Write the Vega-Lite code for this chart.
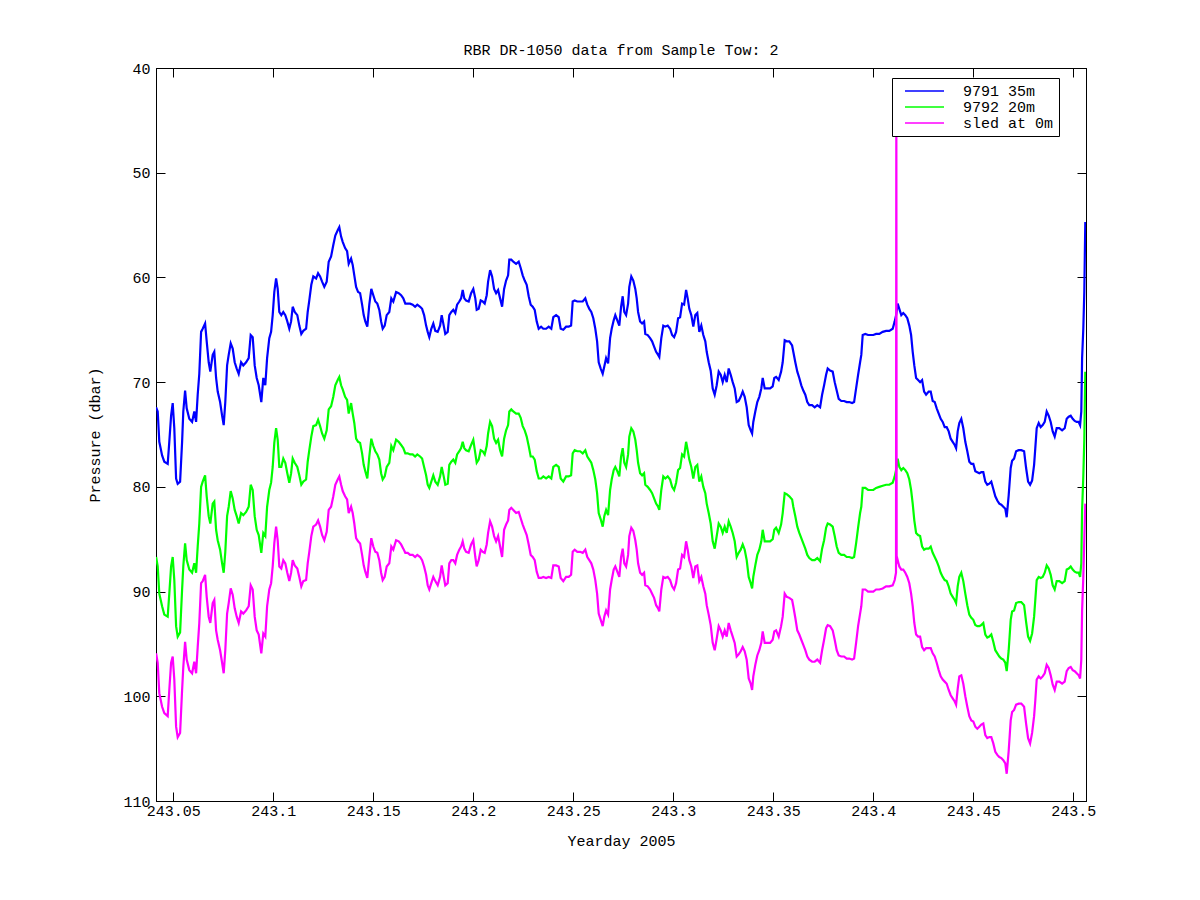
{
"$schema":"https://vega.github.io/schema/vega-lite/v6.json",
"width":930,"height":733,
"autosize":{"type":"none"},
"padding":{"left":156,"top":68,"right":114,"bottom":99},
"background":"white",
"config":{
 "font":"Liberation Mono",
 "view":{"stroke":"black","strokeWidth":1},
 "axis":{"labelFont":"Liberation Mono","labelFontSize":15,"labelColor":"black","titleFont":"Liberation Mono","titleFontSize":15,"titleFontWeight":"normal","titleColor":"black","domainColor":"black","tickColor":"black","grid":false,"tickSize":-9,"domainWidth":1,"tickWidth":1}
},
"title":{"text":"RBR DR-1050 data from Sample Tow: 2","font":"Liberation Mono","fontSize":15,"fontWeight":"normal","color":"black","offset":3,"anchor":"middle"},
"datasets":{
"blue":[
{"t":243.0414,"p":72.4},{"t":243.0422,"p":72.8},{"t":243.0430,"p":75.7},{"t":243.0444,"p":77.0},{"t":243.0455,"p":77.6},{"t":243.0472,"p":77.8},{"t":243.0480,"p":75.7},{"t":243.0489,"p":73.2},{"t":243.0497,"p":72.0},{"t":243.0505,"p":74.4},{"t":243.0514,"p":79.2},{"t":243.0522,"p":79.7},{"t":243.0534,"p":79.5},{"t":243.0544,"p":75.7},{"t":243.0550,"p":72.8},{"t":243.0559,"p":70.8},{"t":243.0567,"p":72.5},{"t":243.0580,"p":73.5},{"t":243.0594,"p":73.8},{"t":243.0605,"p":72.8},{"t":243.0614,"p":73.8},{"t":243.0622,"p":71.2},{"t":243.0630,"p":69.2},{"t":243.0639,"p":65.2},{"t":243.0647,"p":64.9},{"t":243.0659,"p":64.4},{"t":243.0667,"p":66.1},{"t":243.0677,"p":68.1},{"t":243.0685,"p":69.0},{"t":243.0697,"p":67.4},{"t":243.0705,"p":67.1},{"t":243.0714,"p":69.6},{"t":243.0722,"p":70.9},{"t":243.0734,"p":71.9},{"t":243.0744,"p":73.2},{"t":243.0752,"p":74.1},{"t":243.0760,"p":71.9},{"t":243.0769,"p":68.4},{"t":243.0777,"p":67.4},{"t":243.0787,"p":66.3},{"t":243.0797,"p":66.8},{"t":243.0807,"p":68.1},{"t":243.0817,"p":68.7},{"t":243.0827,"p":69.2},{"t":243.0839,"p":68.1},{"t":243.0850,"p":68.4},{"t":243.0864,"p":68.1},{"t":243.0877,"p":67.7},{"t":243.0887,"p":65.5},{"t":243.0897,"p":65.7},{"t":243.0907,"p":68.4},{"t":243.0917,"p":69.6},{"t":243.0927,"p":70.3},{"t":243.0940,"p":71.9},{"t":243.0950,"p":69.6},{"t":243.0960,"p":70.3},{"t":243.0969,"p":67.7},{"t":243.0980,"p":65.8},{"t":243.0989,"p":65.2},{"t":243.0997,"p":63.6},{"t":243.1005,"p":61.4},{"t":243.1014,"p":60.1},{"t":243.1022,"p":61.1},{"t":243.1030,"p":63.3},{"t":243.1040,"p":63.6},{"t":243.1050,"p":63.3},{"t":243.1060,"p":63.6},{"t":243.1070,"p":64.2},{"t":243.1080,"p":64.9},{"t":243.1089,"p":64.2},{"t":243.1097,"p":62.8},{"t":243.1107,"p":63.3},{"t":243.1120,"p":63.6},{"t":243.1130,"p":64.6},{"t":243.1140,"p":65.4},{"t":243.1150,"p":65.1},{"t":243.1164,"p":64.9},{"t":243.1172,"p":63.3},{"t":243.1180,"p":62.2},{"t":243.1190,"p":60.7},{"t":243.1200,"p":59.9},{"t":243.1214,"p":60.1},{"t":243.1224,"p":59.6},{"t":243.1234,"p":59.9},{"t":243.1244,"p":60.4},{"t":243.1255,"p":60.9},{"t":243.1267,"p":60.4},{"t":243.1277,"p":58.5},{"t":243.1289,"p":58.0},{"t":243.1300,"p":56.9},{"t":243.1310,"p":56.0},{"t":243.1322,"p":55.5},{"t":243.1330,"p":55.2},{"t":243.1339,"p":56.1},{"t":243.1347,"p":56.6},{"t":243.1359,"p":57.2},{"t":243.1369,"p":57.5},{"t":243.1377,"p":58.7},{"t":243.1389,"p":58.2},{"t":243.1397,"p":58.8},{"t":243.1405,"p":59.8},{"t":243.1414,"p":60.9},{"t":243.1424,"p":61.4},{"t":243.1434,"p":61.5},{"t":243.1444,"p":62.6},{"t":243.1452,"p":63.6},{"t":243.1460,"p":64.2},{"t":243.1470,"p":64.7},{"t":243.1480,"p":62.6},{"t":243.1490,"p":61.1},{"t":243.1500,"p":61.7},{"t":243.1510,"p":62.3},{"t":243.1520,"p":62.5},{"t":243.1530,"p":63.1},{"t":243.1539,"p":64.2},{"t":243.1547,"p":64.9},{"t":243.1557,"p":64.6},{"t":243.1567,"p":63.6},{"t":243.1580,"p":63.3},{"t":243.1590,"p":62.0},{"t":243.1600,"p":62.3},{"t":243.1614,"p":61.4},{"t":243.1627,"p":61.5},{"t":243.1639,"p":61.7},{"t":243.1650,"p":62.0},{"t":243.1660,"p":62.5},{"t":243.1672,"p":62.5},{"t":243.1684,"p":62.5},{"t":243.1697,"p":62.6},{"t":243.1709,"p":62.8},{"t":243.1720,"p":62.6},{"t":243.1734,"p":62.8},{"t":243.1744,"p":63.0},{"t":243.1754,"p":63.6},{"t":243.1764,"p":64.6},{"t":243.1772,"p":65.2},{"t":243.1780,"p":65.7},{"t":243.1790,"p":64.9},{"t":243.1800,"p":64.4},{"t":243.1810,"p":65.1},{"t":243.1822,"p":65.2},{"t":243.1834,"p":64.6},{"t":243.1842,"p":63.6},{"t":243.1852,"p":64.6},{"t":243.1860,"p":65.4},{"t":243.1872,"p":65.2},{"t":243.1880,"p":63.6},{"t":243.1890,"p":63.3},{"t":243.1900,"p":63.1},{"t":243.1910,"p":63.4},{"t":243.1919,"p":62.6},{"t":243.1930,"p":62.3},{"t":243.1939,"p":62.0},{"t":243.1947,"p":61.2},{"t":243.1955,"p":62.0},{"t":243.1964,"p":62.2},
{"t":243.1977,"p":62.3},{"t":243.1989,"p":61.5},{"t":243.2000,"p":61.1},{"t":243.2010,"p":62.0},{"t":243.2017,"p":63.1},{"t":243.2027,"p":63.0},{"t":243.2037,"p":62.2},{"t":243.2047,"p":62.3},{"t":243.2057,"p":62.5},{"t":243.2067,"p":61.7},{"t":243.2074,"p":60.4},{"t":243.2084,"p":59.3},{"t":243.2094,"p":59.9},{"t":243.2104,"p":61.1},{"t":243.2114,"p":61.5},{"t":243.2124,"p":61.2},{"t":243.2134,"p":62.0},{"t":243.2144,"p":62.8},{"t":243.2154,"p":61.1},{"t":243.2164,"p":60.3},{"t":243.2174,"p":59.8},{"t":243.2180,"p":58.3},{"t":243.2190,"p":58.3},{"t":243.2200,"p":58.5},{"t":243.2214,"p":58.7},{"t":243.2227,"p":58.5},{"t":243.2237,"p":59.1},{"t":243.2247,"p":59.8},{"t":243.2257,"p":60.3},{"t":243.2267,"p":60.7},{"t":243.2277,"p":61.8},{"t":243.2287,"p":62.6},{"t":243.2297,"p":62.8},{"t":243.2307,"p":63.1},{"t":243.2317,"p":64.2},{"t":243.2327,"p":64.9},{"t":243.2339,"p":64.7},{"t":243.2350,"p":64.9},{"t":243.2364,"p":64.9},{"t":243.2377,"p":64.7},{"t":243.2390,"p":64.9},{"t":243.2400,"p":63.8},{"t":243.2414,"p":63.6},{"t":243.2427,"p":63.8},{"t":243.2437,"p":64.9},{"t":243.2450,"p":65.0},{"t":243.2464,"p":64.7},{"t":243.2477,"p":64.7},{"t":243.2489,"p":64.6},{"t":243.2497,"p":62.3},{"t":243.2507,"p":62.2},{"t":243.2520,"p":62.3},{"t":243.2534,"p":62.3},{"t":243.2547,"p":62.3},{"t":243.2560,"p":62.0},{"t":243.2570,"p":62.6},{"t":243.2580,"p":63.0},{"t":243.2590,"p":63.3},{"t":243.2600,"p":63.9},{"t":243.2610,"p":64.9},{"t":243.2619,"p":66.1},{"t":243.2627,"p":68.1},{"t":243.2637,"p":68.7},{"t":243.2647,"p":69.2},{"t":243.2655,"p":68.5},{"t":243.2664,"p":67.7},{"t":243.2674,"p":68.2},{"t":243.2684,"p":65.8},{"t":243.2692,"p":64.9},{"t":243.2702,"p":64.1},{"t":243.2710,"p":63.6},{"t":243.2720,"p":64.1},{"t":243.2730,"p":64.6},{"t":243.2739,"p":62.8},{"t":243.2747,"p":61.8},{"t":243.2755,"p":63.3},{"t":243.2764,"p":63.6},{"t":243.2774,"p":62.5},{"t":243.2780,"p":60.9},{"t":243.2790,"p":59.9},{"t":243.2800,"p":60.3},{"t":243.2810,"p":61.1},{"t":243.2817,"p":62.0},{"t":243.2824,"p":63.3},{"t":243.2834,"p":64.2},{"t":243.2844,"p":64.4},{"t":243.2854,"p":64.2},{"t":243.2860,"p":65.4},{"t":243.2872,"p":65.5},{"t":243.2884,"p":65.8},{"t":243.2894,"p":66.1},{"t":243.2904,"p":66.6},{"t":243.2914,"p":67.1},{"t":243.2924,"p":67.4},{"t":243.2930,"p":67.6},{"t":243.2940,"p":65.8},{"t":243.2950,"p":64.6},{"t":243.2960,"p":64.7},{"t":243.2972,"p":64.6},{"t":243.2984,"p":64.9},{"t":243.2994,"p":65.5},{"t":243.3004,"p":65.7},{"t":243.3014,"p":65.2},{"t":243.3024,"p":63.9},{"t":243.3034,"p":63.8},{"t":243.3044,"p":62.5},{"t":243.3054,"p":62.6},{"t":243.3064,"p":61.2},{"t":243.3072,"p":62.0},{"t":243.3080,"p":63.0},{"t":243.3090,"p":63.6},{"t":243.3100,"p":64.7},{"t":243.3110,"p":63.6},{"t":243.3120,"p":63.4},{"t":243.3130,"p":65.2},{"t":243.3140,"p":64.6},{"t":243.3150,"p":65.5},{"t":243.3160,"p":66.1},{"t":243.3167,"p":67.1},{"t":243.3177,"p":68.1},{"t":243.3187,"p":68.9},{"t":243.3197,"p":70.6},{"t":243.3207,"p":71.2},{"t":243.3217,"p":70.3},{"t":243.3227,"p":69.0},{"t":243.3237,"p":69.3},{"t":243.3247,"p":70.0},{"t":243.3257,"p":69.3},{"t":243.3267,"p":70.0},{"t":243.3277,"p":68.7},{"t":243.3287,"p":69.3},{"t":243.3297,"p":70.0},{"t":243.3307,"p":70.6},{"t":243.3317,"p":71.9},{"t":243.3327,"p":71.8},{"t":243.3337,"p":71.4},{"t":243.3347,"p":70.9},{"t":243.3357,"p":71.4},{"t":243.3367,"p":72.4},{"t":243.3377,"p":74.1},{"t":243.3387,"p":74.6},{"t":243.3394,"p":74.9},{"t":243.3400,"p":73.8},{"t":243.3410,"p":72.8},{"t":243.3420,"p":71.9},{"t":243.3430,"p":71.4},{"t":243.3440,"p":70.6},{"t":243.3447,"p":69.6},{"t":243.3457,"p":70.6},{"t":243.3470,"p":70.6},{"t":243.3484,"p":70.6},{"t":243.3497,"p":70.4},{"t":243.3505,"p":69.6},{"t":243.3514,"p":69.5},
{"t":243.3527,"p":69.8},{"t":243.3539,"p":69.0},{"t":243.3547,"p":68.1},{"t":243.3557,"p":66.0},{"t":243.3567,"p":66.1},{"t":243.3580,"p":66.1},{"t":243.3594,"p":66.5},{"t":243.3600,"p":67.1},{"t":243.3610,"p":68.1},{"t":243.3620,"p":69.0},{"t":243.3630,"p":69.6},{"t":243.3640,"p":70.3},{"t":243.3650,"p":70.8},{"t":243.3660,"p":71.2},{"t":243.3670,"p":71.9},{"t":243.3680,"p":72.2},{"t":243.3694,"p":72.2},{"t":243.3707,"p":72.4},{"t":243.3720,"p":72.2},{"t":243.3734,"p":72.4},{"t":243.3744,"p":71.2},{"t":243.3754,"p":70.3},{"t":243.3764,"p":69.3},{"t":243.3772,"p":68.7},{"t":243.3784,"p":68.9},{"t":243.3797,"p":69.0},{"t":243.3807,"p":70.0},{"t":243.3817,"p":70.8},{"t":243.3827,"p":71.6},{"t":243.3840,"p":71.8},{"t":243.3854,"p":71.8},{"t":243.3867,"p":71.9},{"t":243.3880,"p":71.9},{"t":243.3894,"p":72.0},{"t":243.3904,"p":71.9},{"t":243.3914,"p":70.6},{"t":243.3924,"p":69.3},{"t":243.3934,"p":68.1},{"t":243.3940,"p":67.4},{"t":243.3947,"p":65.5},{"t":243.3960,"p":65.4},{"t":243.3974,"p":65.5},{"t":243.3987,"p":65.5},{"t":243.4000,"p":65.5},{"t":243.4014,"p":65.4},{"t":243.4030,"p":65.4},{"t":243.4047,"p":65.2},{"t":243.4064,"p":65.1},{"t":243.4080,"p":65.1},{"t":243.4097,"p":64.9},{"t":243.4107,"p":64.2},{"t":243.4114,"p":63.6},{"t":243.4122,"p":62.5},{"t":243.4130,"p":63.0},{"t":243.4140,"p":63.6},{"t":243.4150,"p":63.4},{"t":243.4160,"p":63.6},{"t":243.4170,"p":63.9},{"t":243.4180,"p":64.6},{"t":243.4189,"p":65.5},{"t":243.4197,"p":67.1},{"t":243.4205,"p":68.4},{"t":243.4214,"p":69.6},{"t":243.4224,"p":69.8},{"t":243.4234,"p":70.0},{"t":243.4244,"p":69.8},{"t":243.4254,"p":70.9},{"t":243.4264,"p":71.2},{"t":243.4277,"p":70.9},{"t":243.4287,"p":70.9},{"t":243.4297,"p":71.8},{"t":243.4307,"p":71.9},{"t":243.4317,"p":72.5},{"t":243.4327,"p":73.0},{"t":243.4337,"p":73.5},{"t":243.4347,"p":73.8},{"t":243.4357,"p":74.3},{"t":243.4367,"p":74.3},{"t":243.4377,"p":74.7},{"t":243.4387,"p":75.4},{"t":243.4397,"p":75.7},{"t":243.4407,"p":76.0},{"t":243.4414,"p":76.3},{"t":243.4422,"p":74.7},{"t":243.4430,"p":73.9},{"t":243.4440,"p":73.5},{"t":243.4450,"p":74.4},{"t":243.4460,"p":75.7},{"t":243.4470,"p":76.6},{"t":243.4480,"p":77.6},{"t":243.4490,"p":77.8},{"t":243.4500,"p":77.8},{"t":243.4510,"p":78.5},{"t":243.4520,"p":78.6},{"t":243.4530,"p":78.7},{"t":243.4540,"p":78.6},{"t":243.4550,"p":78.6},{"t":243.4560,"p":79.5},{"t":243.4570,"p":79.8},{"t":243.4580,"p":79.7},{"t":243.4590,"p":79.5},{"t":243.4600,"p":80.2},{"t":243.4610,"p":80.9},{"t":243.4620,"p":81.3},{"t":243.4630,"p":81.6},{"t":243.4640,"p":81.7},{"t":243.4650,"p":81.9},{"t":243.4660,"p":82.1},{"t":243.4667,"p":82.9},{"t":243.4677,"p":80.8},{"t":243.4687,"p":78.2},{"t":243.4694,"p":77.5},{"t":243.4704,"p":77.3},{"t":243.4714,"p":76.6},{"t":243.4727,"p":76.5},{"t":243.4740,"p":76.5},{"t":243.4754,"p":76.6},{"t":243.4764,"p":78.2},{"t":243.4774,"p":79.5},{"t":243.4784,"p":79.8},{"t":243.4794,"p":79.4},{"t":243.4804,"p":77.9},{"t":243.4810,"p":76.3},{"t":243.4817,"p":74.4},{"t":243.4827,"p":73.9},{"t":243.4837,"p":74.3},{"t":243.4847,"p":74.1},{"t":243.4857,"p":73.8},{"t":243.4867,"p":72.8},{"t":243.4877,"p":73.2},{"t":243.4887,"p":73.8},{"t":243.4897,"p":74.7},{"t":243.4907,"p":75.2},{"t":243.4917,"p":74.4},{"t":243.4930,"p":74.4},{"t":243.4944,"p":74.6},{"t":243.4957,"p":74.4},{"t":243.4967,"p":73.5},{"t":243.4977,"p":73.3},{"t":243.4987,"p":73.2},{"t":243.4997,"p":73.5},{"t":243.5007,"p":73.7},{"t":243.5017,"p":73.8},{"t":243.5027,"p":73.8},{"t":243.5034,"p":74.1},{"t":243.5040,"p":72.8},{"t":243.5044,"p":67.7},{"t":243.5050,"p":64.9},{"t":243.5055,"p":61.4},{"t":243.5060,"p":54.7}
],
"green":[
{"t":243.0414,"p":86.7},{"t":243.0422,"p":87.6},{"t":243.0430,"p":90.2},{"t":243.0444,"p":91.4},{"t":243.0455,"p":92.2},{"t":243.0472,"p":92.4},{"t":243.0480,"p":90.2},{"t":243.0489,"p":87.6},{"t":243.0497,"p":86.7},{"t":243.0505,"p":88.9},{"t":243.0514,"p":93.3},{"t":243.0522,"p":94.3},{"t":243.0534,"p":93.9},{"t":243.0544,"p":89.8},{"t":243.0550,"p":87.6},{"t":243.0559,"p":85.4},{"t":243.0567,"p":87.0},{"t":243.0580,"p":87.9},{"t":243.0594,"p":88.2},{"t":243.0605,"p":87.3},{"t":243.0614,"p":88.2},{"t":243.0622,"p":85.7},{"t":243.0630,"p":83.5},{"t":243.0639,"p":80.0},{"t":243.0647,"p":79.5},{"t":243.0659,"p":78.9},{"t":243.0667,"p":80.9},{"t":243.0677,"p":82.8},{"t":243.0685,"p":83.5},{"t":243.0697,"p":81.6},{"t":243.0705,"p":81.4},{"t":243.0714,"p":84.1},{"t":243.0722,"p":85.1},{"t":243.0734,"p":86.0},{"t":243.0744,"p":87.3},{"t":243.0752,"p":88.2},{"t":243.0760,"p":86.2},{"t":243.0769,"p":82.8},{"t":243.0777,"p":81.9},{"t":243.0787,"p":80.4},{"t":243.0797,"p":81.1},{"t":243.0807,"p":82.2},{"t":243.0817,"p":82.8},{"t":243.0827,"p":83.5},{"t":243.0839,"p":82.5},{"t":243.0850,"p":82.7},{"t":243.0864,"p":82.4},{"t":243.0877,"p":81.9},{"t":243.0887,"p":79.8},{"t":243.0897,"p":80.3},{"t":243.0907,"p":82.8},{"t":243.0917,"p":84.1},{"t":243.0927,"p":84.6},{"t":243.0940,"p":86.3},{"t":243.0950,"p":84.4},{"t":243.0960,"p":84.7},{"t":243.0969,"p":81.9},{"t":243.0980,"p":80.3},{"t":243.0989,"p":79.6},{"t":243.0997,"p":78.1},{"t":243.1005,"p":75.8},{"t":243.1014,"p":74.4},{"t":243.1022,"p":75.5},{"t":243.1030,"p":78.1},{"t":243.1040,"p":78.1},{"t":243.1050,"p":77.3},{"t":243.1060,"p":77.7},{"t":243.1070,"p":78.7},{"t":243.1080,"p":79.6},{"t":243.1089,"p":78.7},{"t":243.1097,"p":77.3},{"t":243.1107,"p":77.7},{"t":243.1120,"p":78.1},{"t":243.1130,"p":78.9},{"t":243.1140,"p":79.8},{"t":243.1150,"p":79.5},{"t":243.1164,"p":79.3},{"t":243.1172,"p":77.6},{"t":243.1180,"p":76.5},{"t":243.1190,"p":75.2},{"t":243.1200,"p":74.2},{"t":243.1214,"p":74.1},{"t":243.1224,"p":73.6},{"t":243.1234,"p":74.2},{"t":243.1244,"p":74.9},{"t":243.1255,"p":75.4},{"t":243.1267,"p":74.6},{"t":243.1277,"p":72.6},{"t":243.1289,"p":72.3},{"t":243.1300,"p":71.4},{"t":243.1310,"p":70.3},{"t":243.1322,"p":69.8},{"t":243.1330,"p":69.5},{"t":243.1339,"p":70.3},{"t":243.1347,"p":70.7},{"t":243.1359,"p":71.4},{"t":243.1369,"p":71.7},{"t":243.1377,"p":73.0},{"t":243.1389,"p":72.0},{"t":243.1397,"p":73.0},{"t":243.1405,"p":73.9},{"t":243.1414,"p":75.4},{"t":243.1424,"p":75.7},{"t":243.1434,"p":75.8},{"t":243.1444,"p":76.8},{"t":243.1452,"p":77.9},{"t":243.1460,"p":78.5},{"t":243.1470,"p":79.2},{"t":243.1480,"p":77.1},{"t":243.1490,"p":75.4},{"t":243.1500,"p":76.1},{"t":243.1510,"p":76.6},{"t":243.1520,"p":76.9},{"t":243.1530,"p":77.4},{"t":243.1539,"p":78.7},{"t":243.1547,"p":79.3},{"t":243.1557,"p":79.0},{"t":243.1567,"p":78.1},{"t":243.1580,"p":77.7},{"t":243.1590,"p":76.1},{"t":243.1600,"p":76.5},{"t":243.1614,"p":75.5},{"t":243.1627,"p":75.7},{"t":243.1639,"p":76.0},{"t":243.1650,"p":76.3},{"t":243.1660,"p":76.8},{"t":243.1672,"p":76.8},{"t":243.1684,"p":76.9},{"t":243.1697,"p":76.9},{"t":243.1709,"p":77.1},{"t":243.1720,"p":76.9},{"t":243.1734,"p":77.1},{"t":243.1744,"p":77.3},{"t":243.1754,"p":78.1},{"t":243.1764,"p":78.9},{"t":243.1772,"p":79.8},{"t":243.1780,"p":80.1},{"t":243.1790,"p":79.5},{"t":243.1800,"p":78.9},{"t":243.1810,"p":79.5},{"t":243.1822,"p":79.8},{"t":243.1834,"p":79.0},{"t":243.1842,"p":78.1},{"t":243.1852,"p":79.0},{"t":243.1860,"p":79.8},{"t":243.1872,"p":79.7},{"t":243.1880,"p":77.9},{"t":243.1890,"p":77.6},{"t":243.1900,"p":77.4},{"t":243.1910,"p":77.7},{"t":243.1919,"p":76.9},{"t":243.1930,"p":76.6},{"t":243.1939,"p":76.3},{"t":243.1947,"p":75.7},{"t":243.1955,"p":76.3},{"t":243.1964,"p":76.5},
{"t":243.1977,"p":76.6},{"t":243.1989,"p":76.0},{"t":243.2000,"p":75.5},{"t":243.2010,"p":76.8},{"t":243.2017,"p":77.7},{"t":243.2027,"p":77.4},{"t":243.2037,"p":76.5},{"t":243.2047,"p":76.6},{"t":243.2057,"p":76.9},{"t":243.2067,"p":76.1},{"t":243.2074,"p":74.9},{"t":243.2084,"p":73.8},{"t":243.2094,"p":74.2},{"t":243.2104,"p":75.4},{"t":243.2114,"p":75.8},{"t":243.2124,"p":75.5},{"t":243.2134,"p":76.5},{"t":243.2144,"p":77.1},{"t":243.2154,"p":75.4},{"t":243.2164,"p":74.6},{"t":243.2174,"p":74.1},{"t":243.2180,"p":72.8},{"t":243.2190,"p":72.6},{"t":243.2200,"p":72.8},{"t":243.2214,"p":73.0},{"t":243.2227,"p":73.0},{"t":243.2237,"p":73.4},{"t":243.2247,"p":74.2},{"t":243.2257,"p":74.6},{"t":243.2267,"p":75.2},{"t":243.2277,"p":76.1},{"t":243.2287,"p":77.1},{"t":243.2297,"p":77.1},{"t":243.2307,"p":77.4},{"t":243.2317,"p":78.5},{"t":243.2327,"p":79.2},{"t":243.2339,"p":79.2},{"t":243.2350,"p":79.0},{"t":243.2364,"p":79.2},{"t":243.2377,"p":79.0},{"t":243.2390,"p":79.2},{"t":243.2400,"p":78.1},{"t":243.2414,"p":77.9},{"t":243.2427,"p":78.1},{"t":243.2437,"p":79.2},{"t":243.2450,"p":79.5},{"t":243.2464,"p":79.0},{"t":243.2477,"p":79.0},{"t":243.2489,"p":78.9},{"t":243.2497,"p":76.8},{"t":243.2507,"p":76.5},{"t":243.2520,"p":76.6},{"t":243.2534,"p":76.6},{"t":243.2547,"p":76.8},{"t":243.2560,"p":76.5},{"t":243.2570,"p":77.1},{"t":243.2580,"p":77.4},{"t":243.2590,"p":77.7},{"t":243.2600,"p":78.4},{"t":243.2610,"p":79.3},{"t":243.2619,"p":80.6},{"t":243.2627,"p":82.5},{"t":243.2637,"p":83.1},{"t":243.2647,"p":83.8},{"t":243.2655,"p":82.8},{"t":243.2664,"p":82.2},{"t":243.2674,"p":82.7},{"t":243.2684,"p":80.3},{"t":243.2692,"p":79.3},{"t":243.2702,"p":78.4},{"t":243.2710,"p":78.1},{"t":243.2720,"p":78.5},{"t":243.2730,"p":79.0},{"t":243.2739,"p":77.1},{"t":243.2747,"p":76.3},{"t":243.2755,"p":77.7},{"t":243.2764,"p":78.1},{"t":243.2774,"p":76.9},{"t":243.2780,"p":75.2},{"t":243.2790,"p":74.4},{"t":243.2800,"p":74.7},{"t":243.2810,"p":75.5},{"t":243.2817,"p":76.5},{"t":243.2824,"p":77.7},{"t":243.2834,"p":78.7},{"t":243.2844,"p":78.9},{"t":243.2854,"p":78.7},{"t":243.2860,"p":79.8},{"t":243.2872,"p":80.0},{"t":243.2884,"p":80.3},{"t":243.2894,"p":80.6},{"t":243.2904,"p":81.1},{"t":243.2914,"p":81.6},{"t":243.2924,"p":81.9},{"t":243.2930,"p":82.2},{"t":243.2940,"p":80.3},{"t":243.2950,"p":79.0},{"t":243.2960,"p":79.2},{"t":243.2972,"p":79.0},{"t":243.2984,"p":79.3},{"t":243.2994,"p":80.0},{"t":243.3004,"p":80.3},{"t":243.3014,"p":79.6},{"t":243.3024,"p":78.4},{"t":243.3034,"p":78.2},{"t":243.3044,"p":76.9},{"t":243.3054,"p":77.1},{"t":243.3064,"p":75.7},{"t":243.3072,"p":76.5},{"t":243.3080,"p":77.4},{"t":243.3090,"p":78.1},{"t":243.3100,"p":79.2},{"t":243.3110,"p":78.1},{"t":243.3120,"p":77.9},{"t":243.3130,"p":79.5},{"t":243.3140,"p":79.0},{"t":243.3150,"p":80.0},{"t":243.3160,"p":80.6},{"t":243.3167,"p":81.6},{"t":243.3177,"p":82.5},{"t":243.3187,"p":83.5},{"t":243.3197,"p":85.2},{"t":243.3207,"p":85.9},{"t":243.3217,"p":84.7},{"t":243.3227,"p":83.5},{"t":243.3237,"p":83.8},{"t":243.3247,"p":84.4},{"t":243.3257,"p":83.8},{"t":243.3267,"p":84.4},{"t":243.3277,"p":83.3},{"t":243.3287,"p":83.8},{"t":243.3297,"p":84.4},{"t":243.3307,"p":85.2},{"t":243.3317,"p":86.7},{"t":243.3327,"p":86.3},{"t":243.3337,"p":86.0},{"t":243.3347,"p":85.5},{"t":243.3357,"p":86.0},{"t":243.3367,"p":87.0},{"t":243.3377,"p":88.6},{"t":243.3387,"p":89.2},{"t":243.3394,"p":89.7},{"t":243.3400,"p":88.6},{"t":243.3410,"p":87.5},{"t":243.3420,"p":86.5},{"t":243.3430,"p":86.0},{"t":243.3440,"p":85.2},{"t":243.3447,"p":84.1},{"t":243.3457,"p":85.2},{"t":243.3470,"p":85.2},{"t":243.3484,"p":85.2},{"t":243.3497,"p":85.0},{"t":243.3505,"p":84.1},{"t":243.3514,"p":83.9},
{"t":243.3527,"p":84.4},{"t":243.3539,"p":83.6},{"t":243.3547,"p":82.5},{"t":243.3557,"p":80.6},{"t":243.3567,"p":80.7},{"t":243.3580,"p":80.9},{"t":243.3594,"p":81.2},{"t":243.3600,"p":81.9},{"t":243.3610,"p":82.8},{"t":243.3620,"p":83.8},{"t":243.3630,"p":84.4},{"t":243.3640,"p":84.9},{"t":243.3650,"p":85.4},{"t":243.3660,"p":85.9},{"t":243.3670,"p":86.5},{"t":243.3680,"p":86.8},{"t":243.3694,"p":87.0},{"t":243.3707,"p":87.0},{"t":243.3720,"p":86.8},{"t":243.3734,"p":87.1},{"t":243.3744,"p":85.9},{"t":243.3754,"p":85.1},{"t":243.3764,"p":83.9},{"t":243.3772,"p":83.5},{"t":243.3784,"p":83.6},{"t":243.3797,"p":83.8},{"t":243.3807,"p":84.7},{"t":243.3817,"p":85.7},{"t":243.3827,"p":86.3},{"t":243.3840,"p":86.5},{"t":243.3854,"p":86.5},{"t":243.3867,"p":86.7},{"t":243.3880,"p":86.7},{"t":243.3894,"p":86.8},{"t":243.3904,"p":86.7},{"t":243.3914,"p":85.4},{"t":243.3924,"p":83.9},{"t":243.3934,"p":82.5},{"t":243.3940,"p":81.9},{"t":243.3947,"p":80.1},{"t":243.3960,"p":80.1},{"t":243.3974,"p":80.3},{"t":243.3987,"p":80.3},{"t":243.4000,"p":80.3},{"t":243.4014,"p":80.1},{"t":243.4030,"p":80.0},{"t":243.4047,"p":79.9},{"t":243.4064,"p":79.8},{"t":243.4080,"p":79.8},{"t":243.4097,"p":79.6},{"t":243.4107,"p":79.0},{"t":243.4114,"p":78.4},{"t":243.4122,"p":77.3},{"t":243.4130,"p":78.1},{"t":243.4140,"p":78.4},{"t":243.4150,"p":78.2},{"t":243.4160,"p":78.4},{"t":243.4170,"p":78.7},{"t":243.4180,"p":79.3},{"t":243.4189,"p":80.3},{"t":243.4197,"p":81.6},{"t":243.4205,"p":83.2},{"t":243.4214,"p":84.4},{"t":243.4224,"p":84.6},{"t":243.4234,"p":84.7},{"t":243.4244,"p":85.7},{"t":243.4254,"p":86.0},{"t":243.4264,"p":85.9},{"t":243.4277,"p":85.9},{"t":243.4287,"p":85.7},{"t":243.4297,"p":86.3},{"t":243.4307,"p":86.7},{"t":243.4317,"p":87.1},{"t":243.4327,"p":87.6},{"t":243.4337,"p":88.2},{"t":243.4347,"p":88.6},{"t":243.4357,"p":88.9},{"t":243.4367,"p":89.0},{"t":243.4377,"p":89.5},{"t":243.4387,"p":90.2},{"t":243.4397,"p":90.5},{"t":243.4407,"p":90.8},{"t":243.4414,"p":91.1},{"t":243.4422,"p":89.5},{"t":243.4430,"p":88.6},{"t":243.4440,"p":88.2},{"t":243.4450,"p":89.0},{"t":243.4460,"p":90.2},{"t":243.4470,"p":91.3},{"t":243.4480,"p":92.2},{"t":243.4490,"p":92.5},{"t":243.4500,"p":92.7},{"t":243.4510,"p":93.2},{"t":243.4520,"p":93.3},{"t":243.4530,"p":93.3},{"t":243.4540,"p":93.2},{"t":243.4550,"p":93.0},{"t":243.4560,"p":94.1},{"t":243.4570,"p":94.4},{"t":243.4580,"p":94.3},{"t":243.4590,"p":94.1},{"t":243.4600,"p":94.8},{"t":243.4610,"p":95.6},{"t":243.4620,"p":95.9},{"t":243.4630,"p":96.2},{"t":243.4640,"p":96.4},{"t":243.4650,"p":96.5},{"t":243.4660,"p":96.8},{"t":243.4667,"p":97.6},{"t":243.4677,"p":95.6},{"t":243.4687,"p":92.7},{"t":243.4694,"p":91.9},{"t":243.4704,"p":91.8},{"t":243.4714,"p":91.1},{"t":243.4727,"p":91.0},{"t":243.4740,"p":91.0},{"t":243.4754,"p":91.3},{"t":243.4764,"p":92.9},{"t":243.4774,"p":94.3},{"t":243.4784,"p":94.7},{"t":243.4794,"p":94.0},{"t":243.4804,"p":92.4},{"t":243.4810,"p":90.8},{"t":243.4817,"p":88.9},{"t":243.4827,"p":88.6},{"t":243.4837,"p":88.7},{"t":243.4847,"p":88.6},{"t":243.4857,"p":88.2},{"t":243.4867,"p":87.5},{"t":243.4877,"p":87.8},{"t":243.4887,"p":88.4},{"t":243.4897,"p":89.4},{"t":243.4907,"p":89.8},{"t":243.4917,"p":89.0},{"t":243.4930,"p":89.0},{"t":243.4944,"p":89.2},{"t":243.4957,"p":89.0},{"t":243.4967,"p":87.9},{"t":243.4977,"p":87.8},{"t":243.4987,"p":87.6},{"t":243.4997,"p":87.9},{"t":243.5007,"p":88.1},{"t":243.5017,"p":88.2},{"t":243.5027,"p":88.2},{"t":243.5034,"p":88.6},{"t":243.5040,"p":87.3},{"t":243.5044,"p":82.2},{"t":243.5050,"p":79.0},{"t":243.5055,"p":75.5},{"t":243.5060,"p":69.0}
],
"sled":[
{"t":243.0414,"p":95.9},{"t":243.0422,"p":96.8},{"t":243.0430,"p":99.7},{"t":243.0444,"p":101.0},{"t":243.0455,"p":101.6},{"t":243.0472,"p":101.9},{"t":243.0480,"p":99.4},{"t":243.0489,"p":96.8},{"t":243.0497,"p":96.2},{"t":243.0505,"p":98.4},{"t":243.0514,"p":102.9},{"t":243.0522,"p":103.9},{"t":243.0534,"p":103.5},{"t":243.0544,"p":99.4},{"t":243.0550,"p":97.2},{"t":243.0559,"p":94.8},{"t":243.0567,"p":96.5},{"t":243.0580,"p":97.5},{"t":243.0594,"p":97.8},{"t":243.0605,"p":96.7},{"t":243.0614,"p":97.8},{"t":243.0622,"p":95.3},{"t":243.0630,"p":93.0},{"t":243.0639,"p":89.2},{"t":243.0647,"p":89.0},{"t":243.0659,"p":88.4},{"t":243.0667,"p":90.5},{"t":243.0677,"p":92.4},{"t":243.0685,"p":93.0},{"t":243.0697,"p":91.1},{"t":243.0705,"p":90.8},{"t":243.0714,"p":93.7},{"t":243.0722,"p":94.6},{"t":243.0734,"p":95.6},{"t":243.0744,"p":96.8},{"t":243.0752,"p":97.8},{"t":243.0760,"p":95.6},{"t":243.0769,"p":92.1},{"t":243.0777,"p":91.1},{"t":243.0787,"p":89.7},{"t":243.0797,"p":90.3},{"t":243.0807,"p":91.6},{"t":243.0817,"p":92.4},{"t":243.0827,"p":93.0},{"t":243.0839,"p":91.9},{"t":243.0850,"p":92.1},{"t":243.0864,"p":91.8},{"t":243.0877,"p":91.4},{"t":243.0887,"p":89.4},{"t":243.0897,"p":89.8},{"t":243.0907,"p":92.4},{"t":243.0917,"p":93.7},{"t":243.0927,"p":94.1},{"t":243.0940,"p":95.9},{"t":243.0950,"p":94.0},{"t":243.0960,"p":94.3},{"t":243.0969,"p":91.4},{"t":243.0980,"p":89.8},{"t":243.0989,"p":89.2},{"t":243.0997,"p":87.6},{"t":243.1005,"p":85.4},{"t":243.1014,"p":83.8},{"t":243.1022,"p":85.1},{"t":243.1030,"p":87.6},{"t":243.1040,"p":87.8},{"t":243.1050,"p":87.0},{"t":243.1060,"p":87.3},{"t":243.1070,"p":88.2},{"t":243.1080,"p":89.0},{"t":243.1089,"p":88.2},{"t":243.1097,"p":87.0},{"t":243.1107,"p":87.5},{"t":243.1120,"p":87.8},{"t":243.1130,"p":88.6},{"t":243.1140,"p":89.5},{"t":243.1150,"p":89.0},{"t":243.1164,"p":88.9},{"t":243.1172,"p":87.3},{"t":243.1180,"p":86.2},{"t":243.1190,"p":84.7},{"t":243.1200,"p":83.8},{"t":243.1214,"p":83.6},{"t":243.1224,"p":83.2},{"t":243.1234,"p":83.8},{"t":243.1244,"p":84.6},{"t":243.1255,"p":85.1},{"t":243.1267,"p":84.3},{"t":243.1277,"p":82.2},{"t":243.1289,"p":81.9},{"t":243.1300,"p":80.9},{"t":243.1310,"p":79.8},{"t":243.1322,"p":79.3},{"t":243.1330,"p":79.0},{"t":243.1339,"p":79.8},{"t":243.1347,"p":80.4},{"t":243.1359,"p":80.9},{"t":243.1369,"p":81.2},{"t":243.1377,"p":82.5},{"t":243.1389,"p":81.9},{"t":243.1397,"p":82.5},{"t":243.1405,"p":83.5},{"t":243.1414,"p":84.9},{"t":243.1424,"p":85.2},{"t":243.1434,"p":85.4},{"t":243.1444,"p":86.5},{"t":243.1452,"p":87.5},{"t":243.1460,"p":88.1},{"t":243.1470,"p":88.7},{"t":243.1480,"p":86.7},{"t":243.1490,"p":84.9},{"t":243.1500,"p":85.7},{"t":243.1510,"p":86.2},{"t":243.1520,"p":86.3},{"t":243.1530,"p":87.0},{"t":243.1539,"p":88.2},{"t":243.1547,"p":88.9},{"t":243.1557,"p":88.6},{"t":243.1567,"p":87.6},{"t":243.1580,"p":87.3},{"t":243.1590,"p":85.7},{"t":243.1600,"p":86.0},{"t":243.1614,"p":85.1},{"t":243.1627,"p":85.2},{"t":243.1639,"p":85.5},{"t":243.1650,"p":85.9},{"t":243.1660,"p":86.3},{"t":243.1672,"p":86.3},{"t":243.1684,"p":86.5},{"t":243.1697,"p":86.5},{"t":243.1709,"p":86.7},{"t":243.1720,"p":86.5},{"t":243.1734,"p":86.7},{"t":243.1744,"p":87.0},{"t":243.1754,"p":87.6},{"t":243.1764,"p":88.4},{"t":243.1772,"p":89.4},{"t":243.1780,"p":89.8},{"t":243.1790,"p":89.2},{"t":243.1800,"p":88.6},{"t":243.1810,"p":89.0},{"t":243.1822,"p":89.4},{"t":243.1834,"p":88.6},{"t":243.1842,"p":87.5},{"t":243.1852,"p":88.6},{"t":243.1860,"p":89.4},{"t":243.1872,"p":89.2},{"t":243.1880,"p":87.3},{"t":243.1890,"p":87.0},{"t":243.1900,"p":87.0},{"t":243.1910,"p":87.3},{"t":243.1919,"p":86.5},{"t":243.1930,"p":86.0},{"t":243.1939,"p":85.7},{"t":243.1947,"p":85.2},{"t":243.1955,"p":85.9},{"t":243.1964,"p":86.2},
{"t":243.1977,"p":86.3},{"t":243.1989,"p":85.5},{"t":243.2000,"p":85.1},{"t":243.2010,"p":86.7},{"t":243.2017,"p":87.6},{"t":243.2027,"p":87.0},{"t":243.2037,"p":86.0},{"t":243.2047,"p":86.2},{"t":243.2057,"p":86.3},{"t":243.2067,"p":85.5},{"t":243.2074,"p":84.4},{"t":243.2084,"p":83.3},{"t":243.2094,"p":83.8},{"t":243.2104,"p":84.7},{"t":243.2114,"p":85.2},{"t":243.2124,"p":84.7},{"t":243.2134,"p":85.7},{"t":243.2144,"p":86.7},{"t":243.2154,"p":84.1},{"t":243.2164,"p":83.6},{"t":243.2174,"p":83.2},{"t":243.2180,"p":82.2},{"t":243.2190,"p":82.0},{"t":243.2200,"p":82.2},{"t":243.2214,"p":82.5},{"t":243.2227,"p":82.4},{"t":243.2237,"p":83.0},{"t":243.2247,"p":83.6},{"t":243.2257,"p":84.1},{"t":243.2267,"p":84.6},{"t":243.2277,"p":85.5},{"t":243.2287,"p":86.5},{"t":243.2297,"p":86.7},{"t":243.2307,"p":87.0},{"t":243.2317,"p":88.1},{"t":243.2327,"p":88.7},{"t":243.2339,"p":88.7},{"t":243.2350,"p":88.6},{"t":243.2364,"p":88.7},{"t":243.2377,"p":88.6},{"t":243.2390,"p":88.7},{"t":243.2400,"p":87.5},{"t":243.2414,"p":87.5},{"t":243.2427,"p":87.6},{"t":243.2437,"p":88.7},{"t":243.2450,"p":89.0},{"t":243.2464,"p":88.6},{"t":243.2477,"p":88.6},{"t":243.2489,"p":88.4},{"t":243.2497,"p":86.2},{"t":243.2507,"p":86.0},{"t":243.2520,"p":86.2},{"t":243.2534,"p":86.2},{"t":243.2547,"p":86.3},{"t":243.2560,"p":86.0},{"t":243.2570,"p":86.7},{"t":243.2580,"p":87.0},{"t":243.2590,"p":87.3},{"t":243.2600,"p":87.9},{"t":243.2610,"p":88.9},{"t":243.2619,"p":90.2},{"t":243.2627,"p":92.1},{"t":243.2637,"p":92.7},{"t":243.2647,"p":93.3},{"t":243.2655,"p":92.4},{"t":243.2664,"p":91.8},{"t":243.2674,"p":92.2},{"t":243.2684,"p":89.8},{"t":243.2692,"p":88.9},{"t":243.2702,"p":87.9},{"t":243.2710,"p":87.6},{"t":243.2720,"p":88.1},{"t":243.2730,"p":88.6},{"t":243.2739,"p":86.7},{"t":243.2747,"p":85.9},{"t":243.2755,"p":87.3},{"t":243.2764,"p":87.6},{"t":243.2774,"p":86.5},{"t":243.2780,"p":84.7},{"t":243.2790,"p":83.9},{"t":243.2800,"p":84.2},{"t":243.2810,"p":85.1},{"t":243.2817,"p":86.0},{"t":243.2824,"p":87.3},{"t":243.2834,"p":88.2},{"t":243.2844,"p":88.4},{"t":243.2854,"p":88.2},{"t":243.2860,"p":89.4},{"t":243.2872,"p":89.5},{"t":243.2884,"p":89.8},{"t":243.2894,"p":90.2},{"t":243.2904,"p":90.6},{"t":243.2914,"p":91.3},{"t":243.2924,"p":91.6},{"t":243.2930,"p":91.9},{"t":243.2940,"p":89.8},{"t":243.2950,"p":88.6},{"t":243.2960,"p":88.7},{"t":243.2972,"p":88.6},{"t":243.2984,"p":88.9},{"t":243.2994,"p":89.5},{"t":243.3004,"p":89.8},{"t":243.3014,"p":89.2},{"t":243.3024,"p":87.9},{"t":243.3034,"p":87.8},{"t":243.3044,"p":86.5},{"t":243.3054,"p":86.7},{"t":243.3064,"p":85.2},{"t":243.3072,"p":86.0},{"t":243.3080,"p":87.0},{"t":243.3090,"p":87.6},{"t":243.3100,"p":88.7},{"t":243.3110,"p":87.6},{"t":243.3120,"p":87.5},{"t":243.3130,"p":89.0},{"t":243.3140,"p":88.6},{"t":243.3150,"p":89.5},{"t":243.3160,"p":90.2},{"t":243.3167,"p":91.3},{"t":243.3177,"p":92.2},{"t":243.3187,"p":93.2},{"t":243.3197,"p":94.9},{"t":243.3207,"p":95.6},{"t":243.3217,"p":94.5},{"t":243.3227,"p":93.3},{"t":243.3237,"p":93.7},{"t":243.3247,"p":94.3},{"t":243.3257,"p":93.7},{"t":243.3267,"p":94.3},{"t":243.3277,"p":93.0},{"t":243.3287,"p":93.7},{"t":243.3297,"p":94.3},{"t":243.3307,"p":94.9},{"t":243.3317,"p":96.2},{"t":243.3327,"p":96.0},{"t":243.3337,"p":95.7},{"t":243.3347,"p":95.3},{"t":243.3357,"p":95.7},{"t":243.3367,"p":96.5},{"t":243.3377,"p":98.3},{"t":243.3387,"p":98.8},{"t":243.3394,"p":99.4},{"t":243.3400,"p":98.1},{"t":243.3410,"p":97.0},{"t":243.3420,"p":96.1},{"t":243.3430,"p":95.6},{"t":243.3440,"p":94.9},{"t":243.3447,"p":93.8},{"t":243.3457,"p":94.9},{"t":243.3470,"p":94.9},{"t":243.3484,"p":94.9},{"t":243.3497,"p":94.6},{"t":243.3505,"p":93.8},{"t":243.3514,"p":93.7},
{"t":243.3527,"p":94.3},{"t":243.3539,"p":93.3},{"t":243.3547,"p":92.4},{"t":243.3557,"p":90.2},{"t":243.3567,"p":90.5},{"t":243.3580,"p":90.6},{"t":243.3594,"p":90.8},{"t":243.3600,"p":91.4},{"t":243.3610,"p":92.5},{"t":243.3620,"p":93.7},{"t":243.3630,"p":94.1},{"t":243.3640,"p":94.6},{"t":243.3650,"p":95.1},{"t":243.3660,"p":95.6},{"t":243.3670,"p":96.2},{"t":243.3680,"p":96.5},{"t":243.3694,"p":96.7},{"t":243.3707,"p":96.7},{"t":243.3720,"p":96.5},{"t":243.3734,"p":96.8},{"t":243.3744,"p":95.6},{"t":243.3754,"p":94.6},{"t":243.3764,"p":93.5},{"t":243.3772,"p":93.2},{"t":243.3784,"p":93.3},{"t":243.3797,"p":93.7},{"t":243.3807,"p":94.6},{"t":243.3817,"p":95.6},{"t":243.3827,"p":96.1},{"t":243.3840,"p":96.2},{"t":243.3854,"p":96.2},{"t":243.3867,"p":96.4},{"t":243.3880,"p":96.4},{"t":243.3894,"p":96.5},{"t":243.3904,"p":96.4},{"t":243.3914,"p":94.9},{"t":243.3924,"p":93.3},{"t":243.3934,"p":92.1},{"t":243.3940,"p":91.4},{"t":243.3947,"p":89.8},{"t":243.3960,"p":89.8},{"t":243.3974,"p":90.0},{"t":243.3987,"p":90.0},{"t":243.4000,"p":90.0},{"t":243.4014,"p":89.8},{"t":243.4030,"p":89.8},{"t":243.4047,"p":89.7},{"t":243.4064,"p":89.5},{"t":243.4080,"p":89.5},{"t":243.4097,"p":89.4},{"t":243.4107,"p":88.9},{"t":243.41135,"p":88.2},{"t":243.41152,"p":43},{"t":243.41168,"p":87.3},{"t":243.4122,"p":87.0},{"t":243.4130,"p":87.6},{"t":243.4140,"p":87.9},{"t":243.4150,"p":87.9},{"t":243.4160,"p":88.2},{"t":243.4170,"p":88.6},{"t":243.4180,"p":89.2},{"t":243.4189,"p":90.2},{"t":243.4197,"p":91.4},{"t":243.4205,"p":93.0},{"t":243.4214,"p":94.1},{"t":243.4224,"p":94.3},{"t":243.4234,"p":94.3},{"t":243.4244,"p":95.3},{"t":243.4254,"p":95.6},{"t":243.4264,"p":95.4},{"t":243.4277,"p":95.4},{"t":243.4287,"p":95.4},{"t":243.4297,"p":95.9},{"t":243.4307,"p":96.2},{"t":243.4317,"p":96.8},{"t":243.4327,"p":97.5},{"t":243.4337,"p":98.1},{"t":243.4347,"p":98.4},{"t":243.4357,"p":98.6},{"t":243.4367,"p":98.8},{"t":243.4377,"p":99.4},{"t":243.4387,"p":99.9},{"t":243.4397,"p":100.2},{"t":243.4407,"p":100.5},{"t":243.4414,"p":100.8},{"t":243.4422,"p":99.3},{"t":243.4430,"p":98.1},{"t":243.4440,"p":98.0},{"t":243.4450,"p":98.8},{"t":243.4460,"p":100.0},{"t":243.4470,"p":101.0},{"t":243.4480,"p":101.9},{"t":243.4490,"p":102.3},{"t":243.4500,"p":102.4},{"t":243.4510,"p":102.9},{"t":243.4520,"p":103.1},{"t":243.4530,"p":102.9},{"t":243.4540,"p":102.7},{"t":243.4550,"p":102.6},{"t":243.4560,"p":103.7},{"t":243.4570,"p":104.0},{"t":243.4580,"p":103.9},{"t":243.4590,"p":103.9},{"t":243.4600,"p":104.5},{"t":243.4610,"p":105.3},{"t":243.4620,"p":105.6},{"t":243.4630,"p":105.8},{"t":243.4640,"p":105.9},{"t":243.4650,"p":106.1},{"t":243.4660,"p":106.4},{"t":243.4667,"p":107.4},{"t":243.4677,"p":105.2},{"t":243.4687,"p":102.3},{"t":243.4694,"p":101.5},{"t":243.4704,"p":101.3},{"t":243.4714,"p":100.8},{"t":243.4727,"p":100.7},{"t":243.4740,"p":100.7},{"t":243.4754,"p":101.0},{"t":243.4764,"p":102.6},{"t":243.4774,"p":104.0},{"t":243.4784,"p":104.5},{"t":243.4794,"p":103.5},{"t":243.4804,"p":101.9},{"t":243.4810,"p":100.4},{"t":243.4817,"p":98.4},{"t":243.4827,"p":98.1},{"t":243.4837,"p":98.3},{"t":243.4847,"p":98.1},{"t":243.4857,"p":97.8},{"t":243.4867,"p":97.0},{"t":243.4877,"p":97.3},{"t":243.4887,"p":98.0},{"t":243.4897,"p":98.9},{"t":243.4907,"p":99.4},{"t":243.4917,"p":98.6},{"t":243.4930,"p":98.6},{"t":243.4944,"p":98.8},{"t":243.4957,"p":98.6},{"t":243.4967,"p":97.6},{"t":243.4977,"p":97.3},{"t":243.4987,"p":97.2},{"t":243.4997,"p":97.5},{"t":243.5007,"p":97.6},{"t":243.5017,"p":97.8},{"t":243.5027,"p":98.0},{"t":243.5034,"p":98.3},{"t":243.5040,"p":96.5},{"t":243.5044,"p":91.8},{"t":243.5050,"p":88.6},{"t":243.5055,"p":85.1},{"t":243.5060,"p":81.6}
]
},
"layer":[
{"data":{"name":"blue"},"mark":{"type":"line","strokeWidth":2.2,"clip":true},
 "encoding":{
  "x":{"field":"t","type":"quantitative","scale":{"domain":[243.04135,243.50635],"nice":false,"zero":false},
       "axis":{"orient":"bottom","values":[243.05,243.1,243.15,243.2,243.25,243.3,243.35,243.4,243.45,243.5],"format":"~g","title":"Yearday 2005","labelPadding":11,"titlePadding":15,"labelFlush":false}},
  "y":{"field":"p","type":"quantitative","scale":{"domain":[40,110],"reverse":true,"nice":false,"zero":false},
       "axis":{"orient":"left","values":[40,50,60,70,80,90,100,110],"title":"Pressure (dbar)","labelPadding":15,"titlePadding":20}},
  "color":{"datum":"9791 35m","type":"nominal","scale":{"domain":["9791 35m","9792 20m","sled at 0m"],"range":["#0000ff","#00ff00","#ff00ff"]},
       "legend":{"title":null,"orient":"none","legendX":736,"legendY":10,"fillColor":"white","strokeColor":"black","padding":5,"symbolType":"stroke","symbolSize":1521,"symbolStrokeWidth":1.5,"labelFont":"Liberation Mono","labelFontSize":15,"labelColor":"black","labelOffset":18,"clipHeight":16,"rowPadding":0,"symbolOffset":7}}
 }},
{"data":{"name":"green"},"mark":{"type":"line","strokeWidth":2.2,"clip":true},
 "encoding":{
  "x":{"field":"t","type":"quantitative","axis":null},
  "y":{"field":"p","type":"quantitative","axis":null},
  "color":{"datum":"9792 20m","type":"nominal"}
 }},
{"data":{"name":"sled"},"mark":{"type":"line","strokeWidth":2.2,"clip":true},
 "encoding":{
  "x":{"field":"t","type":"quantitative","axis":null},
  "y":{"field":"p","type":"quantitative","axis":null},
  "color":{"datum":"sled at 0m","type":"nominal"}
 }},
{"data":{"name":"blue"},"mark":{"type":"line","opacity":0},
 "encoding":{
  "x":{"field":"t","type":"quantitative","axis":{"orient":"top","labels":false,"title":null,"values":[243.05,243.1,243.15,243.2,243.25,243.3,243.35,243.4,243.45,243.5]}},
  "y":{"field":"p","type":"quantitative","axis":{"orient":"right","labels":false,"title":null,"values":[40,50,60,70,80,90,100,110]}}
 }}
],
"resolve":{"axis":{"x":"independent","y":"independent"}}
}
